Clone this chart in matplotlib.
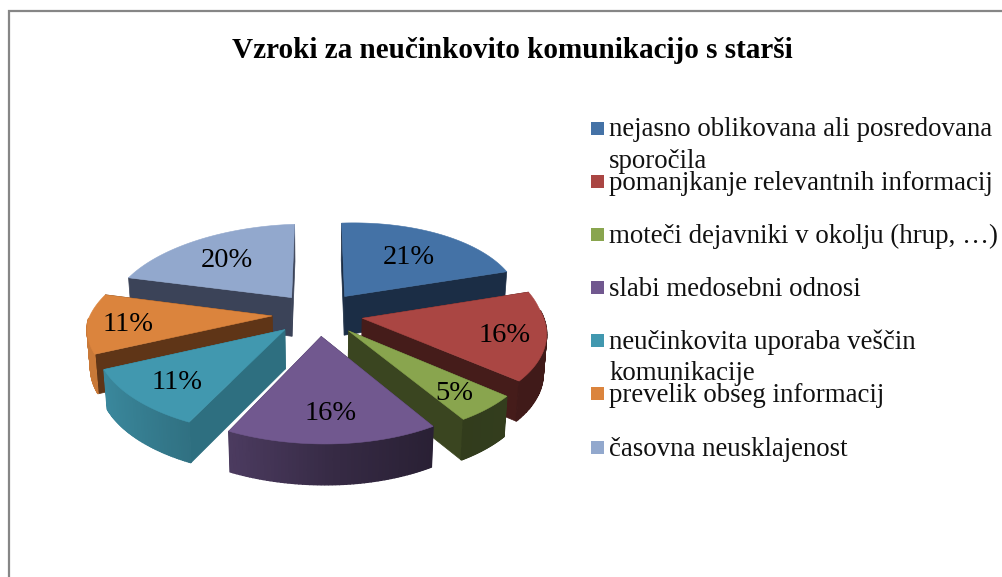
#3D exploded pie, vzroki za neucinkovito komunikacijo
import matplotlib as mp
mp.use('Agg')
import matplotlib.pyplot as plt
import numpy as np
from matplotlib.patches import Polygon, Rectangle

title = "Vzroki za neučinkovito komunikacijo s starši"
labels = ["nejasno oblikovana ali posredovana\nsporočila",
          "pomanjkanje relevantnih informacij",
          "moteči dejavniki v okolju (hrup, …)",
          "slabi medosebni odnosi",
          "neučinkovita uporaba veščin\nkomunikacije",
          "prevelik obseg informacij",
          "časovna neusklajenost"]
values = [21, 16, 5, 16, 11, 11, 20]

top_colors = ['#4472A6', '#AA4643', '#89A54E', '#71588F', '#4198AF', '#DB843D', '#92A8CD']
side_colors = ['#1B2D45', '#451C1A', '#3A4520', '#3A2D4D', '#2E6F80', '#5F3517', '#3B4358']
label_r = [0.66, 0.78, 0.78, 0.72, 0.74, 0.78, 0.68]

# projection of the tilted pie, in pixels
cx, cy = 318, 314
ax_left, ax_right = 184, 178
ax_y = 87
persp = 0.13
skew = 13
tilt = 5
explode = 0.25
depth = 39
serif = 'Liberation Serif'


def project(X, Y):
    d = 1 + persp * Y
    x = cx + np.where(X > 0, ax_right, ax_left) * X / d + skew * np.maximum(-Y, 0)
    y = cy - ax_y * Y / d - tilt * X
    return x, y


def lower(x, y, Y):
    # same point on the bottom of the slice
    return cx + (x - cx) * 0.985, y + depth - 1.5 * Y


def shade(color, X):
    # outer wall is lit from the left
    k = np.interp(X, [-1.2, -0.6, 0, 0.5, 1.2], [0.92, 0.72, 0.48, 0.36, 0.38])
    return tuple(c * k for c in mp.colors.to_rgb(color))


def draw_slice(ax, start, end, top, side):
    mid = (start + end) / 2
    ex, ey = explode * np.sin(mid), explode * np.cos(mid)
    t = np.linspace(start, end, 60)
    X = ex + np.sin(t)
    Y = ey + np.cos(t)
    x, y = project(X, Y)
    tx, ty = project(ex, ey)
    bx, by = lower(x, y, Y)
    btx, bty = lower(tx, ty, ey)

    # the two cut walls
    for i in [0, -1]:
        ax.add_patch(Polygon([(tx, ty), (x[i], y[i]), (bx[i], by[i]), (btx, bty)],
                             fc=side, ec=side, lw=0.5))
    # curved wall, only the part that faces the viewer
    for i in range(len(t) - 1):
        if np.cos(t[i]) > 0.03:
            continue
        c = shade(top, X[i])
        ax.add_patch(Polygon([(x[i], y[i]), (x[i + 1], y[i + 1]),
                              (bx[i + 1], by[i + 1]), (bx[i], by[i])],
                             fc=c, ec=c, lw=1.0))
    pts = [(tx, ty)] + list(zip(x, y))
    ax.add_patch(Polygon(pts, fc=top, ec=top, lw=0.4))


def main():
    fig = plt.figure(figsize=(10.03, 5.77), dpi=100)
    ax = fig.add_axes([0, 0, 1, 1])
    ax.set_xlim(0, 1003)
    ax.set_ylim(577, 0)
    ax.axis('off')

    # chart frame, cut off right and below
    ax.plot([9.5, 9.5, 1003], [577, 10.5, 10.5], color='#868686', lw=1.6,
            solid_joinstyle='miter')

    ax.text(512, 50, title, ha='center', va='center', family=serif,
            weight='bold', fontsize=21, color='black')

    edges = np.cumsum([0] + values) / sum(values) * 2 * np.pi
    mids = (edges[:-1] + edges[1:]) / 2

    # paint from the back to the front
    for i in np.argsort(-np.cos(mids)):
        draw_slice(ax, edges[i], edges[i + 1], top_colors[i], side_colors[i])

    for i, v in enumerate(values):
        r = explode + label_r[i]
        x, y = project(r * np.sin(mids[i]), r * np.cos(mids[i]))
        ax.text(x, y + 3, str(v) + "%", ha='center', va='center', family=serif,
                fontsize=20.5, color='black')

    # legend
    for i, lab in enumerate(labels):
        y = 128 + 53.17 * i
        ax.add_patch(Rectangle((591, y - 6.5), 13, 13, fc=top_colors[i], ec='none'))
        for k, line in enumerate(lab.split("\n")):
            ax.text(609, y + 8.5 + 31 * k, line, ha='left', va='baseline', family=serif,
                    fontsize=19.4, color='#111111')

    fig.savefig('out.png', dpi=100, facecolor='white')


if __name__ == "__main__":
    main()
